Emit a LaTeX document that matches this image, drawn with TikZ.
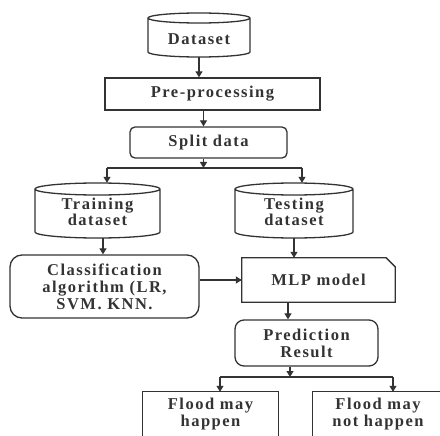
\documentclass[tikz,border=0pt]{standalone}
\usepackage{fontspec}
\setmainfont{Liberation Serif}[LetterSpace=9]
\usetikzlibrary{arrows.meta,calc}
\definecolor{ink}{HTML}{333333}
\newcommand\cylpath[5]{%
  \draw[ln] (#1,-#3-#5) -- (#1,-#4+#5)
    arc[start angle=180,end angle=360,x radius={(#2-#1)/2},y radius=#5]
    -- (#2,-#3-#5)
    arc[start angle=0,end angle=180,x radius={(#2-#1)/2},y radius=#5]
    arc[start angle=180,end angle=360,x radius={(#2-#1)/2},y radius=#5];}
\newcommand\twoline[2]{\renewcommand\arraystretch{0.95}\begin{tabular}{@{}c@{}}#1\\#2\end{tabular}}
\begin{document}
\begin{tikzpicture}[x=1pt,y=1pt,
  ln/.style={draw=ink,line width=1.3pt},
  txt/.style={inner sep=0pt,align=center,text=ink,
    font=\fontsize{16.5}{17}\selectfont\bfseries},
  boxr/.style={txt,ln},
  arr/.style={ink,line width=1.2pt,-{Triangle[length=6pt,width=7pt]}},
  con/.style={ink,line width=1.2pt}]
\useasboundingbox[fill=white] (0,0) rectangle (440,-436);
\clip (0,0) rectangle (440,-436);
% nodes
\node[txt,minimum width=102,minimum height=44] (ds) at (199,-35) {\raisebox{-10pt}[0pt][0pt]{Dataset}};
\cylpath{148}{250}{13}{57}{5}
\node[boxr,minimum width=215,minimum height=32] (pre) at (212.5,-94) {Pre-processing};
\node[boxr,rounded corners=5,minimum width=157,minimum height=31] (split) at (208.5,-142.5) {Split data};
\node[txt,minimum width=125,minimum height=55] (train) at (97.5,-210.5) {\raisebox{-8pt}[0pt][0pt]{\twoline{Training}{dataset}}};
\cylpath{35}{160}{183}{238}{6}
\node[txt,minimum width=118,minimum height=55] (test) at (294,-210.5) {\raisebox{-8pt}[0pt][0pt]{\twoline{Testing}{dataset}}};
\cylpath{235}{353}{183}{238}{6}
\node[boxr,rounded corners=12,minimum width=189,minimum height=63] (cls) at (104.5,-286.5) {Classification\\algorithm (LR,\\SVM. KNN.};
\node[txt,minimum width=153,minimum height=44] (mlp) at (318.5,-280) {MLP model};
\draw[ln] (mlp.south west) -- (mlp.north west) -- ([xshift=-9]mlp.north east) -- ([yshift=-9]mlp.north east) -- (mlp.south east) -- cycle;
\node[boxr,rounded corners=9,minimum width=143,minimum height=46] (pred) at (306.5,-343) {Prediction\\Result};
\node[txt,minimum width=135,minimum height=52,text depth=0pt] (f1) at (210.5,-418) {};
\draw[ln] (f1.south west) -- (f1.north west) -- (f1.north east) -- (f1.south east);
\node[txt,anchor=north] (f1t) at ([yshift=-6]f1.north) {Flood may\\happen};
\node[txt,minimum width=130,minimum height=52] (f2) at (378,-418) {};
\draw[ln] (f2.south west) -- (f2.north west) -- (f2.north east) -- (f2.south east);
\node[txt,anchor=north] (f2t) at ([yshift=-6]f2.north) {Flood may\\not happen};
% connectors
\draw[arr] (ds.south) -- (ds.south |- pre.north);
\draw[arr] ([xshift=-5]split.north |- pre.south) -- ([xshift=-5]split.north);
\coordinate (jn) at (0,-168);
\coordinate (tL) at ([xshift=9.5]train.north);
\coordinate (tR) at ([xshift=8]test.north);
\draw[arr] ([xshift=-5]split.south) -- ([xshift=-5]split.south |- jn);
\draw[con] (tL |- jn) -- (tR |- jn);
\draw[arr] (tL |- jn) -- (tL);
\draw[arr] (tR |- jn) -- (tR);
\draw[arr] ([xshift=5.5]train.south) -- ([xshift=5.5]train.south |- cls.north);
\draw[arr] (test.south) -- (test.south |- mlp.north);
\draw[arr] (mlp.west -| cls.east) -- (mlp.west);
\draw[arr] ([xshift=-30.5]mlp.south) -- ([xshift=-30.5]mlp.south |- pred.north);
\coordinate (jn2) at (0,-377);
\coordinate (fL) at ([xshift=9.5]f1.north);
\coordinate (fR) at ([xshift=15]f2.north);
\draw[arr] ([xshift=-16.5]pred.south) -- ([xshift=-16.5]pred.south |- jn2);
\draw[con] (fL |- jn2) -- (fR |- jn2);
\draw[arr] (fL |- jn2) -- (fL);
\draw[arr] (fR |- jn2) -- (fR);
\end{tikzpicture}
\end{document}
